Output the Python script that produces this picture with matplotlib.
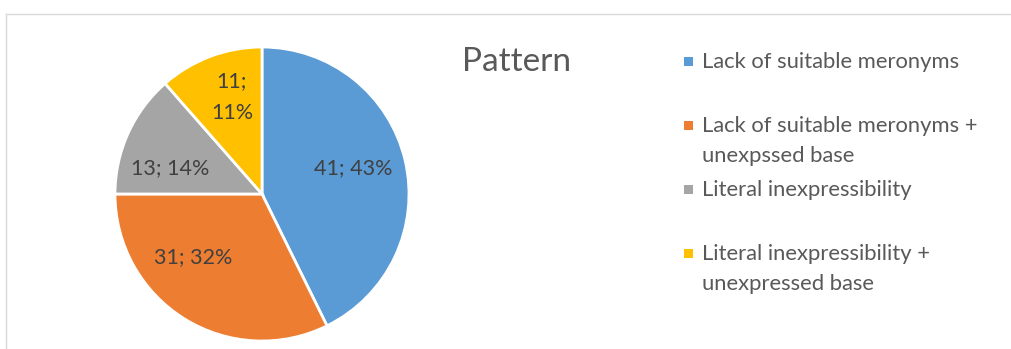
import matplotlib
matplotlib.use("Agg")
import matplotlib.pyplot as plt
from matplotlib.lines import Line2D
from matplotlib.patches import Rectangle

# ---- data -------------------------------------------------------------
categories = [
    "Lack of suitable meronyms",
    "Lack of suitable meronyms +\nunexpssed base",
    "Literal inexpressibility",
    "Literal inexpressibility +\nunexpressed base",
]
counts = [41, 31, 13, 11]
colors = ["#5B9BD5", "#ED7D31", "#A5A5A5", "#FFC000"]
chart_title = "Pattern"

# ---- layout (pixels, measured from the top-left corner) ----------------
W, H, DPI = 1011, 349, 100
PIE_CX, PIE_CY, PIE_R = 262, 194, 147
# data label centres, in units of the pie radius
label_xy = [(0.619, 0.177), (-0.469, -0.429), (-0.626, 0.177), (-0.204, 0.66)]
label_wrap = [False, False, False, True]
LEG_X_TEXT, LEG_X_MARK = 702, 688
LEG_BASE0, LEG_PITCH, LEG_LINE = 68, 64, 30

plt.rcParams["font.family"] = ["Lato", "DejaVu Sans"]

fig = plt.figure(figsize=(W / DPI, H / DPI), dpi=DPI)
fig.patch.set_facecolor("white")


def fx(x):
    return x / W


def fy(y):
    return 1 - y / H


# chart-area border (runs off the right and bottom edges)
fig.add_artist(Line2D([fx(6), fx(W + 5)], [fy(14), fy(14)], color="#D9D9D9", lw=1.0))
fig.add_artist(Line2D([fx(6), fx(6)], [fy(14), fy(H + 5)], color="#D9D9D9", lw=1.0))

# ---- pie ------------------------------------------------------------------
ax = fig.add_axes([fx(PIE_CX - PIE_R), fy(PIE_CY + PIE_R), 2 * PIE_R / W, 2 * PIE_R / H])
ax.pie(counts, colors=colors, startangle=90, counterclock=False, radius=1,
       wedgeprops=dict(edgecolor="white", linewidth=2))
ax.set_xlim(-1, 1)
ax.set_ylim(-1, 1)
ax.set_aspect("equal")
ax.axis("off")

total = sum(counts)
for c, (lx, ly), wrap in zip(counts, label_xy, label_wrap):
    pct = round(100 * c / total)
    sep = ";\n" if wrap else "; "
    ax.text(lx, ly, f"{c}{sep}{pct}%", ha="center", va="center",
            fontsize=15.5, color="#404040", linespacing=1.75)

# ---- title ------------------------------------------------------------
fig.text(fx(462), fy(71), chart_title, ha="left", va="baseline",
         fontsize=24, color="#595959")

# ---- legend -----------------------------------------------------------
for i, (name, col) in enumerate(zip(categories, colors)):
    base = LEG_BASE0 + i * LEG_PITCH
    s = 9
    fig.add_artist(Rectangle((fx(LEG_X_MARK - s / 2), fy(base - 7 + s / 2)), s / W, s / H,
                             facecolor=col, edgecolor="none"))
    for j, line in enumerate(name.split("\n")):
        fig.text(fx(LEG_X_TEXT), fy(base + j * LEG_LINE), line, ha="left", va="baseline",
                 fontsize=15.8, color="#595959")

fig.savefig("out.png", dpi=DPI, facecolor="white")
